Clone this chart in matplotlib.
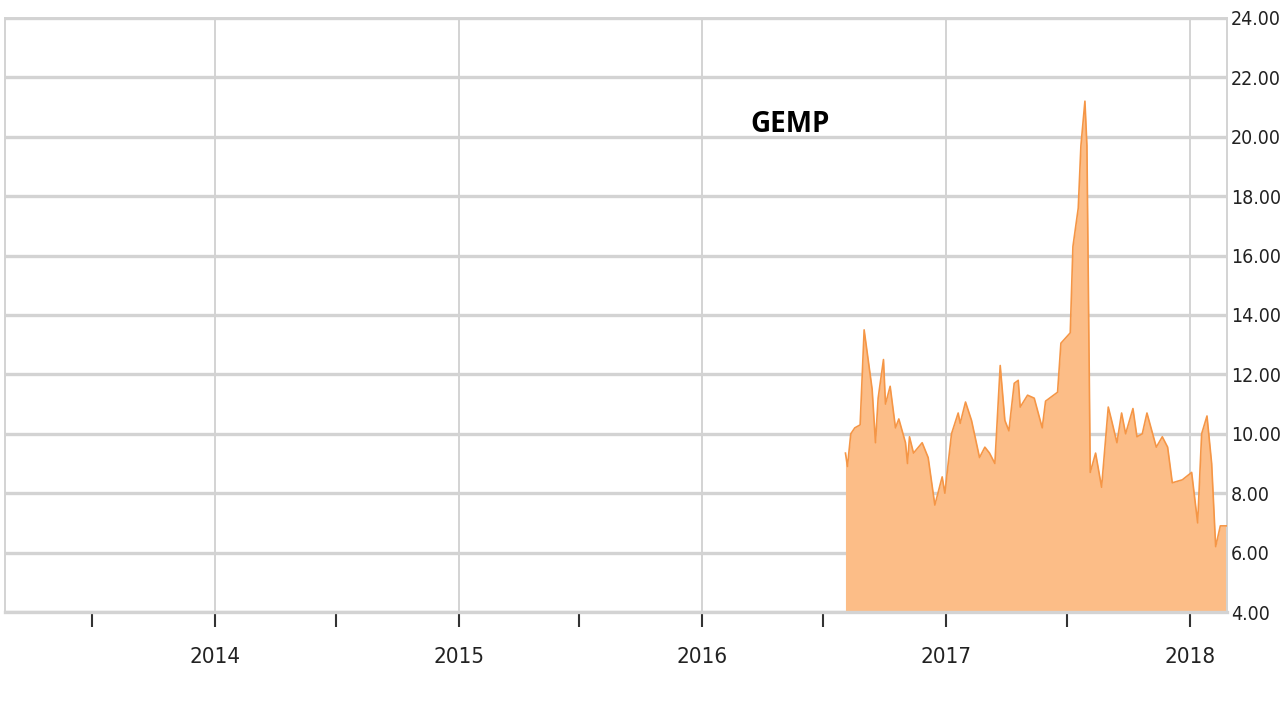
import pandas as pd
import matplotlib
matplotlib.use('Agg')
import matplotlib.pyplot as plt
import matplotlib.dates as mdates
from matplotlib import font_manager
from matplotlib.ticker import FormatStrFormatter

# 1. Data (GEMP closing price)
dates = ['2016-08-03', '2016-08-06', '2016-08-11', '2016-08-17', '2016-08-25',
         '2016-08-31', '2016-09-06', '2016-09-12', '2016-09-17', '2016-09-21',
         '2016-09-29', '2016-10-02', '2016-10-09', '2016-10-17', '2016-10-22',
         '2016-11-01', '2016-11-04', '2016-11-07', '2016-11-13', '2016-11-26',
         '2016-12-05', '2016-12-15', '2016-12-26', '2016-12-30', '2017-01-09',
         '2017-01-19', '2017-01-22', '2017-01-30', '2017-02-08', '2017-02-20',
         '2017-02-28', '2017-03-07', '2017-03-15', '2017-03-23', '2017-03-30',
         '2017-04-05', '2017-04-13', '2017-04-19', '2017-04-22', '2017-05-03',
         '2017-05-13', '2017-05-25', '2017-05-30', '2017-06-17', '2017-06-22',
         '2017-07-06', '2017-07-10', '2017-07-18', '2017-07-22', '2017-07-28',
         '2017-07-31', '2017-08-05', '2017-08-13', '2017-08-22', '2017-09-01',
         '2017-09-06', '2017-09-14', '2017-09-21', '2017-09-27', '2017-10-08',
         '2017-10-14', '2017-10-22', '2017-10-29', '2017-11-12', '2017-11-21',
         '2017-11-29', '2017-12-06', '2017-12-21', '2018-01-04', '2018-01-13',
         '2018-01-19', '2018-01-27', '2018-02-03', '2018-02-09', '2018-02-16',
         '2018-02-26']
prices = [9.35, 8.9, 10.0, 10.2, 10.3,
          13.5, 12.5, 11.5, 9.7, 11.2,
          12.5, 11.0, 11.6, 10.2, 10.5,
          9.7, 9.0, 9.9, 9.35, 9.7,
          9.2, 7.6, 8.55, 8.0, 10.0,
          10.7, 10.35, 11.07, 10.45, 9.2,
          9.55, 9.35, 9.0, 12.3, 10.45,
          10.1, 11.7, 11.8, 10.9, 11.3,
          11.2, 10.2, 11.1, 11.4, 13.05,
          13.4, 16.3, 17.6, 19.7, 21.2,
          19.7, 8.7, 9.35, 8.2, 10.9,
          10.45, 9.7, 10.7, 10.0, 10.85,
          9.9, 10.0, 10.7, 9.55, 9.9,
          9.55, 8.35, 8.45, 8.7, 7.0,
          10.0, 10.6, 9.0, 6.2, 6.9,
          6.9]
ticker_name = 'GEMP'
y_ticks = [4, 6, 8, 10, 12, 14, 16, 18, 20, 22, 24]

df = pd.DataFrame({'price': prices}, index=pd.to_datetime(dates))

# 2. Fonts - use a condensed face if one is installed
has_condensed = any(f.name == 'DejaVu Sans' and f.stretch in ('condensed', 600 - 100, 300)
                    for f in font_manager.fontManager.ttflist)
has_condensed = has_condensed or any('Condensed' in f.fname and 'DejaVuSans' in f.fname
                                     for f in font_manager.fontManager.ttflist)
stretch = 'condensed' if has_condensed else 'normal'
ysize = 14 if has_condensed else 12
xsize = 16 if has_condensed else 14

# 3. Plot
fig = plt.figure(figsize=(12.8, 7.2), dpi=100)
ax = fig.add_axes([5 / 1280, 1 - 612 / 720, 1222 / 1280, 594 / 720])

ax.fill_between(df.index, 4, df['price'], color='#FCBD87', linewidth=0, zorder=2)
ax.plot(df.index, df['price'], color='#F59646', linewidth=1.2, zorder=3)

ax.set_ylim(4, 24)
ax.set_xlim(pd.Timestamp('2013-02-20'), df.index[-1])

# Y axis on the right
ax.yaxis.tick_right()
ax.set_yticks(y_ticks)
ax.yaxis.set_major_formatter(FormatStrFormatter('%.2f'))
ax.tick_params(axis='y', length=0, pad=3, labelsize=ysize, labelcolor='#222222')

# X axis: years, minor ticks at mid-year
ax.xaxis.set_major_locator(mdates.YearLocator())
ax.xaxis.set_major_formatter(mdates.DateFormatter('%Y'))
ax.xaxis.set_minor_locator(mdates.MonthLocator(bymonth=7))
ax.tick_params(axis='x', which='both', length=11, width=1.5, color='#333333',
               direction='out', labelsize=xsize, labelcolor='#222222', pad=14)

for lbl in ax.get_xticklabels() + ax.get_yticklabels():
    lbl.set_fontstretch(stretch)

# Grid
ax.set_axisbelow(True)
ax.grid(True, axis='y', color='#d3d3d3', linewidth=2.4)
ax.grid(True, axis='x', which='major', color='#d3d3d3', linewidth=1.4)
for side in ['left', 'right', 'top']:
    ax.spines[side].set_color('#d3d3d3')
    ax.spines[side].set_linewidth(1.4)
ax.spines['bottom'].set_color('#d3d3d3')
ax.spines['bottom'].set_linewidth(2.4)

# Ticker label (pixel position from the top-left of the picture)
ax.text(790, 720 - 124, ticker_name, transform=None, fontsize=20, fontweight='bold',
        family='Open Sans', ha='center', va='center', color='black')

# 4. Save
fig.savefig('out.png', dpi=100)
